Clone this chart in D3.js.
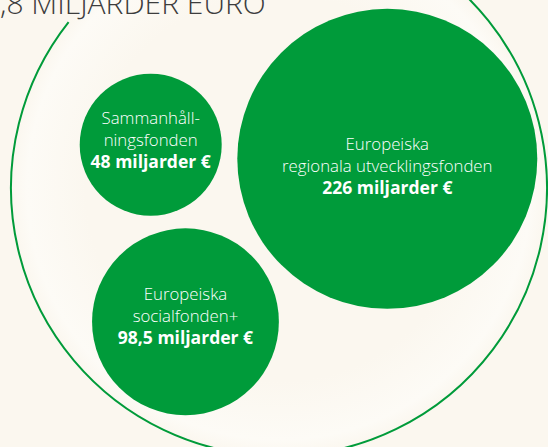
<!DOCTYPE html>
<meta charset="utf-8">
<script src="https://cdn.jsdelivr.net/npm/d3@7"></script>
<style>
  body { margin: 0; background: #fbf7ef; }
</style>
<div id="chart"></div>
<script>
  // fonder och belopp (miljarder euro)
  var nameLines = [["Sammanhåll-", "ningsfonden"], ["Europeiska", "regionala utvecklingsfonden"], ["Europeiska", "socialfonden+"]]
  var values = [48, 226, 98.5]
  var valueLabels = ["48 miljarder €", "226 miljarder €", "98,5 miljarder €"]
  var title = ",8 MILJARDER EURO"

  var width = 548, height = 447
  var green = "#009b3a"
  var bg = "#fbf7ef"
  var font = "'Open Sans', 'Noto Sans', sans-serif"

  var svg = d3.select("#chart").append("svg")
    .attr("width", width)
    .attr("height", height)

  svg.append("rect").attr("width", width).attr("height", height).attr("fill", bg)

  // soft light band inside the ring
  var grad = svg.append("defs").append("radialGradient").attr("id", "glow")
  grad.append("stop").attr("offset", "0.72").attr("stop-color", bg)
  grad.append("stop").attr("offset", "0.94").attr("stop-color", "#fdfbf6")
  grad.append("stop").attr("offset", "1").attr("stop-color", bg)

  // outer ring (open at the top for the heading)
  var ring = { cx: 279, cy: 188, r: 268 }
  svg.append("circle")
    .attr("cx", ring.cx).attr("cy", ring.cy).attr("r", ring.r)
    .attr("fill", "url(#glow)")

  var p = d3.path()
  var a0 = Math.atan2(20 - ring.cy, 66 - ring.cx)
  p.arc(ring.cx, ring.cy, ring.r, a0, -Math.PI / 2, true)
  svg.append("path")
    .attr("d", p.toString())
    .attr("fill", "none")
    .attr("stroke", green)
    .attr("stroke-width", 2)

  // heading, cut by the top-left corner
  svg.append("text")
    .attr("x", 0)
    .attr("y", 14)
    .attr("fill", "#3d3d3d")
    .style("font-family", font)
    .style("font-weight", 300)
    .style("font-size", "30px")
    .text(title)

  // radius scale and packing
  var r = d3.scaleLinear().domain(d3.extent(values)).range([71, 150])
  var pad = 8
  var nodes = values.map(function (v, i) {
    return { i: i, value: v, rr: r(v), r: r(v) + pad }
  })
  d3.packSiblings(nodes)

  var rot = 3.4 * Math.PI / 180
  nodes.forEach(function (d) {
    var x = d.x * Math.cos(rot) - d.y * Math.sin(rot)
    var y = d.x * Math.sin(rot) + d.y * Math.cos(rot)
    d.x = x
    d.y = y
  })
  var x0 = d3.min(nodes, function (d) { return d.x - d.rr }),
    x1 = d3.max(nodes, function (d) { return d.x + d.rr }),
    y0 = d3.min(nodes, function (d) { return d.y - d.rr }),
    y1 = d3.max(nodes, function (d) { return d.y + d.rr })
  var packCenter = [308.5, 212]
  var offX = packCenter[0] - (x0 + x1) / 2,
    offY = packCenter[1] - (y0 + y1) / 2
  nodes.forEach(function (d) { d.x += offX; d.y += offY })

  var labelShift = [1, 13, 0]

  var g = svg.selectAll("g.fund")
    .data(nodes)
    .enter()
    .append("g")
    .attr("class", "fund")

  g.append("circle")
    .attr("cx", function (d) { return d.x })
    .attr("cy", function (d) { return d.y })
    .attr("r", function (d) { return d.rr })
    .attr("fill", green)

  var t = g.append("text")
    .attr("text-anchor", "middle")
    .attr("fill", "#ffffff")
    .style("font-family", font)

  t.each(function (d) {
    var el = d3.select(this)
    var lines = nameLines[d.i]
    var yMid = d.y + labelShift[d.i]
    lines.forEach(function (line, k) {
      el.append("tspan")
        .attr("x", d.x)
        .attr("y", yMid + (k - 1) * 22)
        .style("font-weight", 300)
        .style("font-size", "16.8px")
        .text(line)
    })
    el.append("tspan")
      .attr("x", d.x)
      .attr("y", yMid + 22)
      .style("font-weight", 700)
      .style("font-size", "17.5px")
      .text(valueLabels[d.i])
  })
</script>
